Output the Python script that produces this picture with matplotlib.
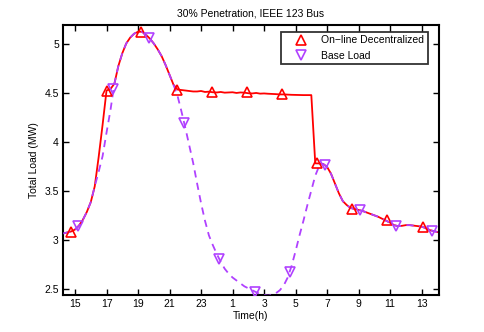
import numpy as np
import matplotlib
matplotlib.use("Agg")
import matplotlib.pyplot as plt

plt.rcParams["font.family"] = ["Liberation Sans", "DejaVu Sans"]

# time axis, hours (24h shown as 15..37, labelled modulo 24)
t = np.arange(14.25, 38.01, 0.25)

base_load = [
    3.07, 3.08, 3.09, 3.11, 3.15, 3.21, 3.29, 3.39, 3.55, 3.70, 3.86, 4.10,
    4.33, 4.60, 4.78, 4.91, 5.01, 5.07, 5.11, 5.13, 5.13, 5.10, 5.06, 5.01,
    4.95, 4.88, 4.79, 4.69, 4.59, 4.48, 4.32, 4.15, 3.97, 3.79, 3.58, 3.38,
    3.20, 3.05, 2.95, 2.86, 2.78, 2.71, 2.66, 2.62, 2.59, 2.56, 2.53, 2.51,
    2.49, 2.47, 2.45, 2.44, 2.435, 2.44, 2.46, 2.49, 2.54, 2.62, 2.74, 2.89,
    3.05, 3.20, 3.36, 3.51, 3.66, 3.76, 3.78, 3.75, 3.68, 3.58, 3.48, 3.40,
    3.36, 3.33, 3.32, 3.31, 3.30, 3.285, 3.27, 3.255, 3.24, 3.22, 3.20, 3.18,
    3.155, 3.145, 3.148, 3.155, 3.155, 3.15, 3.145, 3.14, 3.125, 3.105, 3.095, 3.085,
]

online = [
    3.07, 3.08, 3.09, 3.11, 3.15, 3.21, 3.29, 3.39, 3.55, 3.85, 4.18, 4.53,
    4.545, 4.60, 4.78, 4.91, 5.01, 5.07, 5.11, 5.13, 5.13, 5.10, 5.06, 5.01,
    4.95, 4.88, 4.79, 4.69, 4.59, 4.54, 4.535, 4.53, 4.525, 4.52, 4.52, 4.525,
    4.515, 4.518, 4.512, 4.51, 4.515, 4.508, 4.51, 4.512, 4.505, 4.51, 4.508, 4.502,
    4.50, 4.505, 4.498, 4.50, 4.497, 4.495, 4.493, 4.49, 4.49, 4.488, 4.486, 4.485,
    4.484, 4.483, 4.483, 4.483, 3.786, 3.785, 3.78, 3.75, 3.68, 3.58, 3.48, 3.40,
    3.36, 3.33, 3.32, 3.31, 3.30, 3.285, 3.27, 3.255, 3.24, 3.22, 3.20, 3.18,
    3.155, 3.145, 3.148, 3.155, 3.155, 3.15, 3.145, 3.14, 3.125, 3.105, 3.095, 3.085,
]

# marker positions
online_mark_t = [14.73, 17.0, 19.17, 21.45, 23.67, 25.93, 28.15, 30.33, 32.56, 34.82, 37.06]
online_mark_v = [3.09, 4.53, 5.128, 4.54, 4.516, 4.51, 4.496, 3.786, 3.32, 3.205, 3.137]
base_mark_t = [15.21, 17.43, 19.71, 21.92, 24.16, 26.42, 28.64, 30.86, 33.08, 35.37, 37.63]
base_mark_v = [3.145, 4.547, 5.066, 4.20, 2.81, 2.477, 2.675, 3.768, 3.307, 3.147, 3.096]

xticks = [15, 17, 19, 21, 23, 25, 27, 29, 31, 33, 35, 37]
xtick_labels = ["15", "17", "19", "21", "23", "1", "3", "5", "7", "9", "11", "13"]
yticks = [2.5, 3, 3.5, 4, 4.5, 5]
ytick_labels = ["2.5", "3", "3.5", "4", "4.5", "5"]

red = "#ff0000"
purple = "#b041ff"

fig = plt.figure(figsize=(4.85, 3.32), dpi=100)
ax = fig.add_axes([0.13, 0.111, 0.775, 0.814])

ax.plot(t, online, color=red, lw=1.3, zorder=2)
ax.plot(t, base_load, color=purple, lw=1.3, ls=(0, (4, 3)), zorder=3)

ax.plot(online_mark_t, online_mark_v, ls="none", marker="^", ms=7,
        mfc="none", mec=red, mew=1.2, zorder=4, label="On\u2212line Decentralized")
ax.plot(base_mark_t, base_mark_v, ls="none", marker="v", ms=7,
        mfc="none", mec=purple, mew=1.2, zorder=4, label="Base Load")

ax.set_xlim(14.24, 38.1)
ax.set_ylim(2.44, 5.2)
ax.set_xticks(xticks)
ax.set_xticklabels(xtick_labels)
ax.set_yticks(yticks)
ax.set_yticklabels(ytick_labels)
ax.tick_params(direction="in", top=True, right=True, length=4, width=1,
               labelsize=7.5, pad=3)
for s in ax.spines.values():
    s.set_linewidth(1.5)

ax.set_title("30% Penetration, IEEE 123 Bus", fontsize=7.5, pad=6)
ax.set_xlabel("Time(h)", fontsize=7.5, labelpad=1)
ax.set_ylabel("Total Load (MW)", fontsize=7.5, labelpad=4)

leg = ax.legend(loc="upper right", bbox_to_anchor=(0.971, 0.975), fontsize=7.5,
                frameon=True, fancybox=False, handlelength=3.0, borderaxespad=0,
                handletextpad=0.5, borderpad=0.35, labelspacing=0.5)
leg.get_frame().set_edgecolor("black")
leg.get_frame().set_linewidth(1.3)

fig.savefig("out.png", dpi=100)
